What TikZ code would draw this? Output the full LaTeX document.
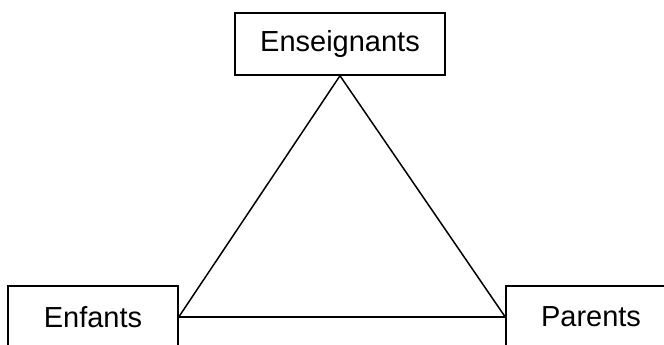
\documentclass[tikz,border=0pt]{standalone}
\usepackage{fontspec}
\setmainfont{Liberation Sans}
\usepackage{tikz}

\begin{document}
\begin{tikzpicture}[x=1pt, y=-1pt, line width=1.5pt,
  role/.style={draw, minimum height=62pt, font=\fontsize{29}{34}\selectfont}]
  \useasboundingbox (0, 0) rectangle (664, 345);
  \node [role, minimum width=210pt] (ENS) at (340, 44) {Enseignants};
  \node [role, minimum width=170pt] (ENF) at (93, 317) {Enfants};
  \node [role, minimum width=170pt] (PAR) at (591, 317) {Parents};
  \draw (ENS.south) -- (ENF.east);
  \draw (ENS.south) -- (PAR.west);
  \draw (ENF.east) -- (PAR.west);
\end{tikzpicture}
\end{document}
